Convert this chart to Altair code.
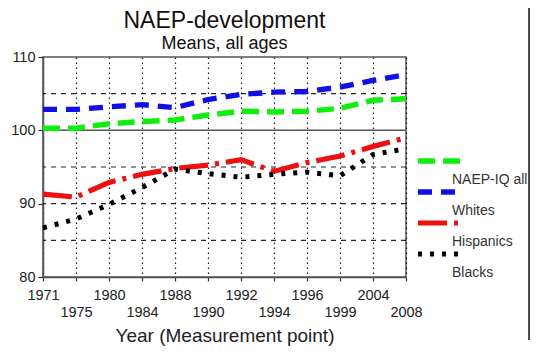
import altair as alt
import pandas as pd

title_text = "NAEP-development"
subtitle_text = "Means, all ages"
years = ["1971", "1975", "1980", "1984", "1988", "1990", "1992", "1994", "1996", "1999", "2004", "2008"]
series = ["NAEP-IQ all", "Whites", "Hispanics", "Blacks"]
naep_all = [100.3, 100.3, 100.9, 101.2, 101.4, 102.1, 102.6, 102.5, 102.6, 103.0, 104.1, 104.3]
whites = [102.85, 102.85, 103.2, 103.5, 103.1, 104.2, 104.9, 105.2, 105.3, 105.9, 106.8, 107.6]
hispanics = [91.3, 90.9, 92.9, 94.0, 94.8, 95.25, 96.0, 94.4, 95.6, 96.5, 97.8, 99.0]
blacks = [86.7, 87.9, 89.9, 92.2, 94.7, 94.1, 93.6, 94.0, 94.3, 93.8, 96.7, 97.5]
colors = ["#10ee10", "#1010e6", "#ee1010", "#000000"]
dashes = [[17, 8], [14, 9], [29, 7, 4, 7], [4, 8]]
widths = [5.5, 5, 5, 5]
grid_dashed = [85, 90, 95, 105]
grid_solid = [100]
y_ticks = [80, 85, 90, 95, 100, 105, 110]

W, H = 363, 220

rows = []
for name, vals in zip(series, [naep_all, whites, hispanics, blacks]):
    for yr, v in zip(years, vals):
        rows.append({"year": yr, "value": v, "series": name})
df = pd.DataFrame(rows)
legend_df = pd.DataFrame({"series": series, "idx": list(range(len(series)))})

lower_row = ["1975", "1984", "1990", "1994", "1999", "2008"]
lower_test = "indexof([" + ",".join("'%s'" % y for y in lower_row) + "], datum.value) >= 0"

x_enc = alt.X(
    "year:O",
    sort=years,
    scale=alt.Scale(type="point", padding=0),
    axis=alt.Axis(
        title="Year (Measurement point)",
        titleFontSize=19,
        titleFont="Liberation Sans",
        titleFontWeight="normal",
        titleColor="#222",
        titlePadding=8,
        labelAngle=0,
        labelFontSize=14.5,
        labelFont="Liberation Sans",
        labelColor="#222",
        labelPadding={"condition": {"test": lower_test, "value": 24}, "value": 7},
        grid=True,
        gridDash=[1.5, 3.5],
        gridColor="#000",
        gridWidth=1.2,
        gridOpacity=0.9,
        domainColor="#555",
        domainWidth=1.5,
        tickColor="#333",
        tickSize=4,
        tickWidth=1.2,
    ),
)

scale_y = alt.Scale(domain=[80, 110], nice=False, zero=False)
color_scale = alt.Scale(domain=series, range=colors)
dash_scale = alt.Scale(domain=series, range=dashes)
width_scale = alt.Scale(domain=series, range=widths)

lines = alt.Chart(df).mark_line(strokeCap="butt").encode(
    x=x_enc,
    y=alt.Y(
        "value:Q",
        scale=scale_y,
        axis=alt.Axis(
            title=None,
            values=y_ticks,
            labelExpr="datum.value % 10 == 0 ? datum.label : ''",
            labelFontSize=14.5,
            labelFont="Liberation Sans",
            labelColor="#222",
            labelPadding=3,
            grid=False,
            domainColor="#555",
            domainWidth=1.5,
            tickColor="#333",
            tickSize=5,
            tickWidth=1.2,
        ),
    ),
    color=alt.Color("series:N", scale=color_scale, legend=None),
    strokeDash=alt.StrokeDash("series:N", scale=dash_scale, legend=None),
    strokeWidth=alt.StrokeWidth("series:N", scale=width_scale, legend=None),
    order=alt.Order("year:O"),
)

grid_d = alt.Chart(pd.DataFrame({"v": grid_dashed})).mark_rule(
    color="#000", strokeDash=[5, 5], strokeWidth=1.2, opacity=0.85
).encode(y=alt.Y("v:Q", scale=scale_y))
grid_s = alt.Chart(pd.DataFrame({"v": grid_solid})).mark_rule(
    color="#555", strokeWidth=1.5
).encode(y=alt.Y("v:Q", scale=scale_y))

main = alt.layer(grid_d, grid_s, lines)

leg_scale = alt.Scale(domain=[0, 3], range=[104, 197], nice=False, zero=False)
leg_rules = alt.Chart(legend_df).mark_rule(strokeCap="butt").encode(
    x=alt.value(375),
    x2=alt.value(418),
    y=alt.Y("idx:Q", scale=leg_scale, axis=None),
    color=alt.Color("series:N", scale=color_scale, legend=None),
    strokeDash=alt.StrokeDash("series:N", scale=dash_scale, legend=None),
    strokeWidth=alt.StrokeWidth("series:N", scale=width_scale, legend=None),
)
leg_text = alt.Chart(legend_df).mark_text(
    align="left", baseline="middle", dy=19, fontSize=14, font="Liberation Sans", color="#333"
).encode(
    x=alt.value(409),
    y=alt.Y("idx:Q", scale=leg_scale, axis=None),
    text="series:N",
)
frame_r = alt.Chart(legend_df).mark_rule(color="#444", strokeWidth=3).encode(
    x=alt.value(487), y=alt.value(-49), y2=alt.value(283)
)
titles_df = pd.DataFrame({"t": [title_text]})
title_mark = alt.Chart(titles_df).mark_text(
    align="center", baseline="alphabetic", fontSize=23, font="Liberation Sans", color="#111"
).encode(x=alt.value(W / 2), y=alt.value(-29.5), text="t:N")
sub_df = pd.DataFrame({"t": [subtitle_text]})
subtitle_mark = alt.Chart(sub_df).mark_text(
    align="center", baseline="alphabetic", fontSize=18, font="Liberation Sans", color="#111"
).encode(x=alt.value(W / 2), y=alt.value(-8.5), text="t:N")

legend = alt.layer(leg_rules, leg_text, frame_r, title_mark, subtitle_mark)

chart = alt.layer(main, legend).resolve_scale(y="independent").properties(
    width=W,
    height=H,
    autosize=alt.AutoSizeParams(type="none"),
    padding={"left": 35, "top": 49, "right": 124, "bottom": 70},
).configure_view(stroke="#555", strokeWidth=1.5)

chart.save("out.html", embed_options={"renderer": "svg", "actions": False})
